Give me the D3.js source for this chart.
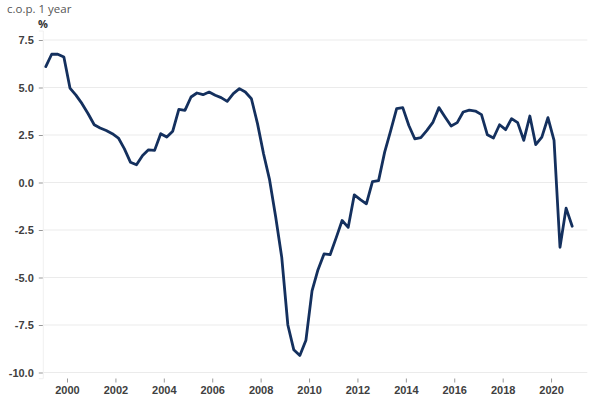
<!DOCTYPE html>
<html>
<head>
<meta charset="utf-8">
<script src="https://cdn.jsdelivr.net/npm/d3@7"></script>
<style>
  html, body { margin: 0; padding: 0; background: #fff; }
  svg { display: block; font-family: "Open Sans", "Noto Sans", sans-serif; }
</style>
</head>
<body>
<svg id="chart" width="600" height="400"></svg>
<script>
// ---- Data ----
const quarters = [
  "1999Q1","1999Q2","1999Q3","1999Q4","2000Q1","2000Q2","2000Q3","2000Q4",
  "2001Q1","2001Q2","2001Q3","2001Q4","2002Q1","2002Q2","2002Q3","2002Q4",
  "2003Q1","2003Q2","2003Q3","2003Q4","2004Q1","2004Q2","2004Q3","2004Q4",
  "2005Q1","2005Q2","2005Q3","2005Q4","2006Q1","2006Q2","2006Q3","2006Q4",
  "2007Q1","2007Q2","2007Q3","2007Q4","2008Q1","2008Q2","2008Q3","2008Q4",
  "2009Q1","2009Q2","2009Q3","2009Q4","2010Q1","2010Q2","2010Q3","2010Q4",
  "2011Q1","2011Q2","2011Q3","2011Q4","2012Q1","2012Q2","2012Q3","2012Q4",
  "2013Q1","2013Q2","2013Q3","2013Q4","2014Q1","2014Q2","2014Q3","2014Q4",
  "2015Q1","2015Q2","2015Q3","2015Q4","2016Q1","2016Q2","2016Q3","2016Q4",
  "2017Q1","2017Q2","2017Q3","2017Q4","2018Q1","2018Q2","2018Q3","2018Q4",
  "2019Q1","2019Q2","2019Q3","2019Q4","2020Q1","2020Q2","2020Q3","2020Q4"
];
const values = [
  6.1, 6.75, 6.75, 6.6,   4.97, 4.6, 4.15, 3.62,
  3.04, 2.87, 2.74, 2.57, 2.34, 1.78, 1.07, 0.93,
  1.42, 1.72, 1.69, 2.57, 2.39, 2.7, 3.85, 3.8,
  4.5, 4.71, 4.62, 4.76,  4.59, 4.47, 4.27, 4.68,
  4.94, 4.76, 4.41, 3.1,  1.5, 0.15, -1.8, -3.94,
  -7.5, -8.8, -9.1, -8.3, -5.7, -4.6, -3.76, -3.8,
  -2.9, -2.0, -2.36, -0.65, -0.9, -1.12, 0.05, 0.1,
  1.6, 2.7, 3.89, 3.94,   3.0, 2.3, 2.36, 2.74,
  3.18, 3.94, 3.45, 2.97, 3.15, 3.71, 3.81, 3.76,
  3.57, 2.51, 2.34, 3.04, 2.78, 3.36, 3.15, 2.22,
  3.5, 1.99, 2.39, 3.41,  2.22, -3.41, -1.35, -2.3
];
const yTicks = [-10, -7.5, -5, -2.5, 0, 2.5, 5, 7.5];
const xTickYears = [2000, 2002, 2004, 2006, 2008, 2010, 2012, 2014, 2016, 2018, 2020];
const unitTitle = "c.o.p. 1 year";
const unitLabel = "%";

// ---- Build ----
const parseQ = s => {
  const y = +s.slice(0, 4), q = +s.slice(5);
  return new Date(y, (q - 1) * 3 + 1, 15);
};
const data = quarters.map((q, i) => ({ date: parseQ(q), value: values[i] }));

const svg = d3.select("#chart");
const left = 42.8, right = 587.3;

const x = d3.scaleTime()
  .domain([new Date(1999, 0, 1), new Date(2021, 6, 1)])
  .range([left, right]);

const y = d3.scaleLinear()
  .domain([-10.3, 8.0])
  .range([378.2, 30.5]);

// gridlines
svg.append("g")
  .selectAll("line")
  .data(yTicks)
  .join("line")
  .attr("x1", left).attr("x2", right)
  .attr("y1", d => y(d)).attr("y2", d => y(d))
  .attr("stroke", "#ebebeb").attr("stroke-width", 1);

// y axis
const yAxis = svg.append("g")
  .attr("transform", `translate(${left},0)`)
  .call(d3.axisLeft(y).tickValues(yTicks).tickFormat(d => d.toFixed(1)).tickSize(4).tickPadding(5));
yAxis.select(".domain").attr("stroke", "#f0f0f0");
yAxis.selectAll(".tick line").attr("stroke", "#999");
yAxis.selectAll("text")
  .attr("fill", "#404040").attr("font-size", 11).attr("font-weight", 600);

// x axis
const xAxis = svg.append("g")
  .attr("transform", `translate(0,378.5)`)
  .call(d3.axisBottom(x).tickValues(xTickYears.map(yr => new Date(yr, 0, 1)))
    .tickFormat(d3.timeFormat("%Y")).tickSize(4).tickPadding(4));
xAxis.select(".domain").remove();
xAxis.selectAll(".tick line").attr("stroke", "#999");
xAxis.selectAll("text")
  .attr("fill", "#404040").attr("font-size", 11).attr("font-weight", 600);

// line
const line = d3.line().x(d => x(d.date)).y(d => y(d.value));
svg.append("path")
  .datum(data)
  .attr("d", line)
  .attr("fill", "none")
  .attr("stroke", "#14305e")
  .attr("stroke-width", 2.8)
  .attr("stroke-linejoin", "round")
  .attr("stroke-linecap", "round");

// titles
svg.append("text")
  .attr("x", 7).attr("y", 13)
  .attr("fill", "#555").attr("font-size", 11.5)
  .text(unitTitle);
svg.append("text")
  .attr("x", 38).attr("y", 28)
  .attr("fill", "#333").attr("font-size", 11).attr("font-weight", 700)
  .text(unitLabel);
</script>
</body>
</html>
